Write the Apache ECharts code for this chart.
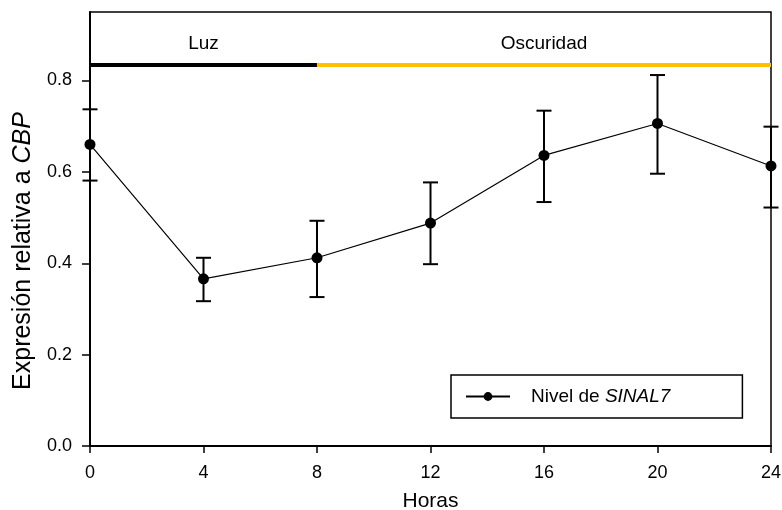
<!DOCTYPE html>
<html style="height: 100%">
<head>
  <meta charset="utf-8">
  <title>Nivel de SINAL7</title>
  <script src="https://cdn.jsdelivr.net/npm/echarts@6/dist/echarts.min.js"></script>
</head>
<body style="height: 100%; margin: 0; background: #fff">
  <div id="main" style="width: 782px; height: 510px"></div>
  <script type="text/javascript">
    // horas de muestreo y expresion relativa
    var horas = [0, 4, 8, 12, 16, 20, 24];
    var expresion = [0.660, 0.366, 0.412, 0.488, 0.636, 0.706, 0.613];
    var errSup = [0.737, 0.412, 0.493, 0.577, 0.734, 0.812, 0.699];
    var errInf = [0.581, 0.317, 0.326, 0.398, 0.534, 0.596, 0.522];
    var yTicks = [0, 0.2, 0.4, 0.6, 0.8];
    var xTicks = [0, 4, 8, 12, 16, 20, 24];

    // periodos de luz / oscuridad
    var periodos = ['Luz', 'Oscuridad'];
    var periodoIni = [0, 8];
    var periodoFin = [8, 24];
    var barraY = 0.834;
    var textoY = 0.881;

    var font = 'Liberation Sans, Arial, sans-serif';
    var colPeriodo = ['#000000', '#FFC000'];

    var errData = horas.map(function (h, i) { return [h, errInf[i], errSup[i]]; });
    var perData = periodos.map(function (p, i) { return [periodoIni[i], periodoFin[i], i]; });

    var option = {
      animation: false,
      backgroundColor: '#fff',
      grid: {
        left: 90, right: 11, top: 12, bottom: 64,
        containLabel: false, outerBoundsMode: 'none',
        show: true, borderColor: '#000', borderWidth: 1.5
      },
      legend: {
        left: 451, top: 375,
        padding: [12, 72, 12, 14],
        borderColor: '#000', borderWidth: 1.5,
        itemWidth: 44, itemHeight: 11,
        data: ['Nivel de SINAL7'],
        formatter: function () { return '{n|Nivel de }{i|SINAL7}'; },
        textStyle: {
          fontFamily: font, fontSize: 19, color: '#000',
          rich: {
            n: { fontFamily: font, fontSize: 19, color: '#000', padding: [0, 0, 0, 16] },
            i: { fontFamily: font, fontSize: 19, color: '#000', fontStyle: 'italic' }
          }
        }
      },
      xAxis: {
        type: 'value', min: 0, max: 24, interval: 4,
        name: 'Horas', nameLocation: 'middle', nameGap: 45,
        nameTextStyle: { fontFamily: font, fontSize: 21, color: '#000' },
        axisLine: { lineStyle: { color: '#000', width: 2 } },
        axisTick: { show: true, length: 7, lineStyle: { color: '#000', width: 1.5 }, customValues: xTicks },
        axisLabel: { margin: 18, fontFamily: font, fontSize: 18, color: '#000', customValues: xTicks },
        splitLine: { show: false }
      },
      yAxis: {
        type: 'value', min: 0, max: 0.95,
        name: '{a|Expresión relativa a }{b|CBP}', nameLocation: 'middle', nameGap: 54,
        nameTextStyle: {
          fontFamily: font, fontSize: 25, color: '#000',
          padding: [0, 44, 0, 0],
          rich: {
            a: { fontFamily: font, fontSize: 25, color: '#000' },
            b: { fontFamily: font, fontSize: 25, color: '#000', fontStyle: 'italic' }
          }
        },
        axisLine: { show: true, lineStyle: { color: '#000', width: 2 } },
        axisTick: { show: true, length: 8, lineStyle: { color: '#000', width: 1.5 }, customValues: yTicks },
        axisLabel: {
          margin: 18, fontFamily: font, fontSize: 18, color: '#000', customValues: yTicks,
          formatter: function (v) { return v.toFixed(1); }
        },
        splitLine: { show: false }
      },
      series: [
        {
          name: 'periodos',
          type: 'custom',
          clip: false,
          silent: true,
          data: perData,
          renderItem: function (params, api) {
            var a = api.coord([api.value(0), barraY]);
            var b = api.coord([api.value(1), barraY]);
            var t = api.coord([(api.value(0) + api.value(1)) / 2, textoY]);
            var idx = api.value(2);
            return {
              type: 'group',
              children: [
                {
                  type: 'line',
                  shape: { x1: a[0], y1: a[1], x2: b[0], y2: b[1] },
                  style: { stroke: colPeriodo[idx], lineWidth: 4 }
                },
                {
                  type: 'text',
                  x: t[0], y: t[1],
                  style: {
                    text: periodos[idx], fill: '#000', font: '19px ' + font,
                    align: 'center', verticalAlign: 'middle'
                  }
                }
              ]
            };
          }
        },
        {
          name: 'error',
          type: 'custom',
          clip: false,
          silent: true,
          data: errData,
          renderItem: function (params, api) {
            var x = api.value(0);
            var lo = api.coord([x, api.value(1)]);
            var hi = api.coord([x, api.value(2)]);
            var w = 7.5;
            var st = { stroke: '#000', lineWidth: 2 };
            return {
              type: 'group',
              children: [
                { type: 'line', shape: { x1: lo[0], y1: lo[1], x2: hi[0], y2: hi[1] }, style: st },
                { type: 'line', shape: { x1: hi[0] - w, y1: hi[1], x2: hi[0] + w, y2: hi[1] }, style: st },
                { type: 'line', shape: { x1: lo[0] - w, y1: lo[1], x2: lo[0] + w, y2: lo[1] }, style: st }
              ]
            };
          },
          z: 3
        },
        {
          name: 'Nivel de SINAL7',
          type: 'line',
          clip: false,
          data: horas.map(function (h, i) { return [h, expresion[i]]; }),
          symbol: 'circle',
          symbolSize: 11,
          lineStyle: { color: '#000', width: 1.2 },
          itemStyle: { color: '#000' },
          z: 4
        }
      ]
    };

    var chart = echarts.init(document.getElementById('main'));
    chart.setOption(option);
  </script>
</body>
</html>
